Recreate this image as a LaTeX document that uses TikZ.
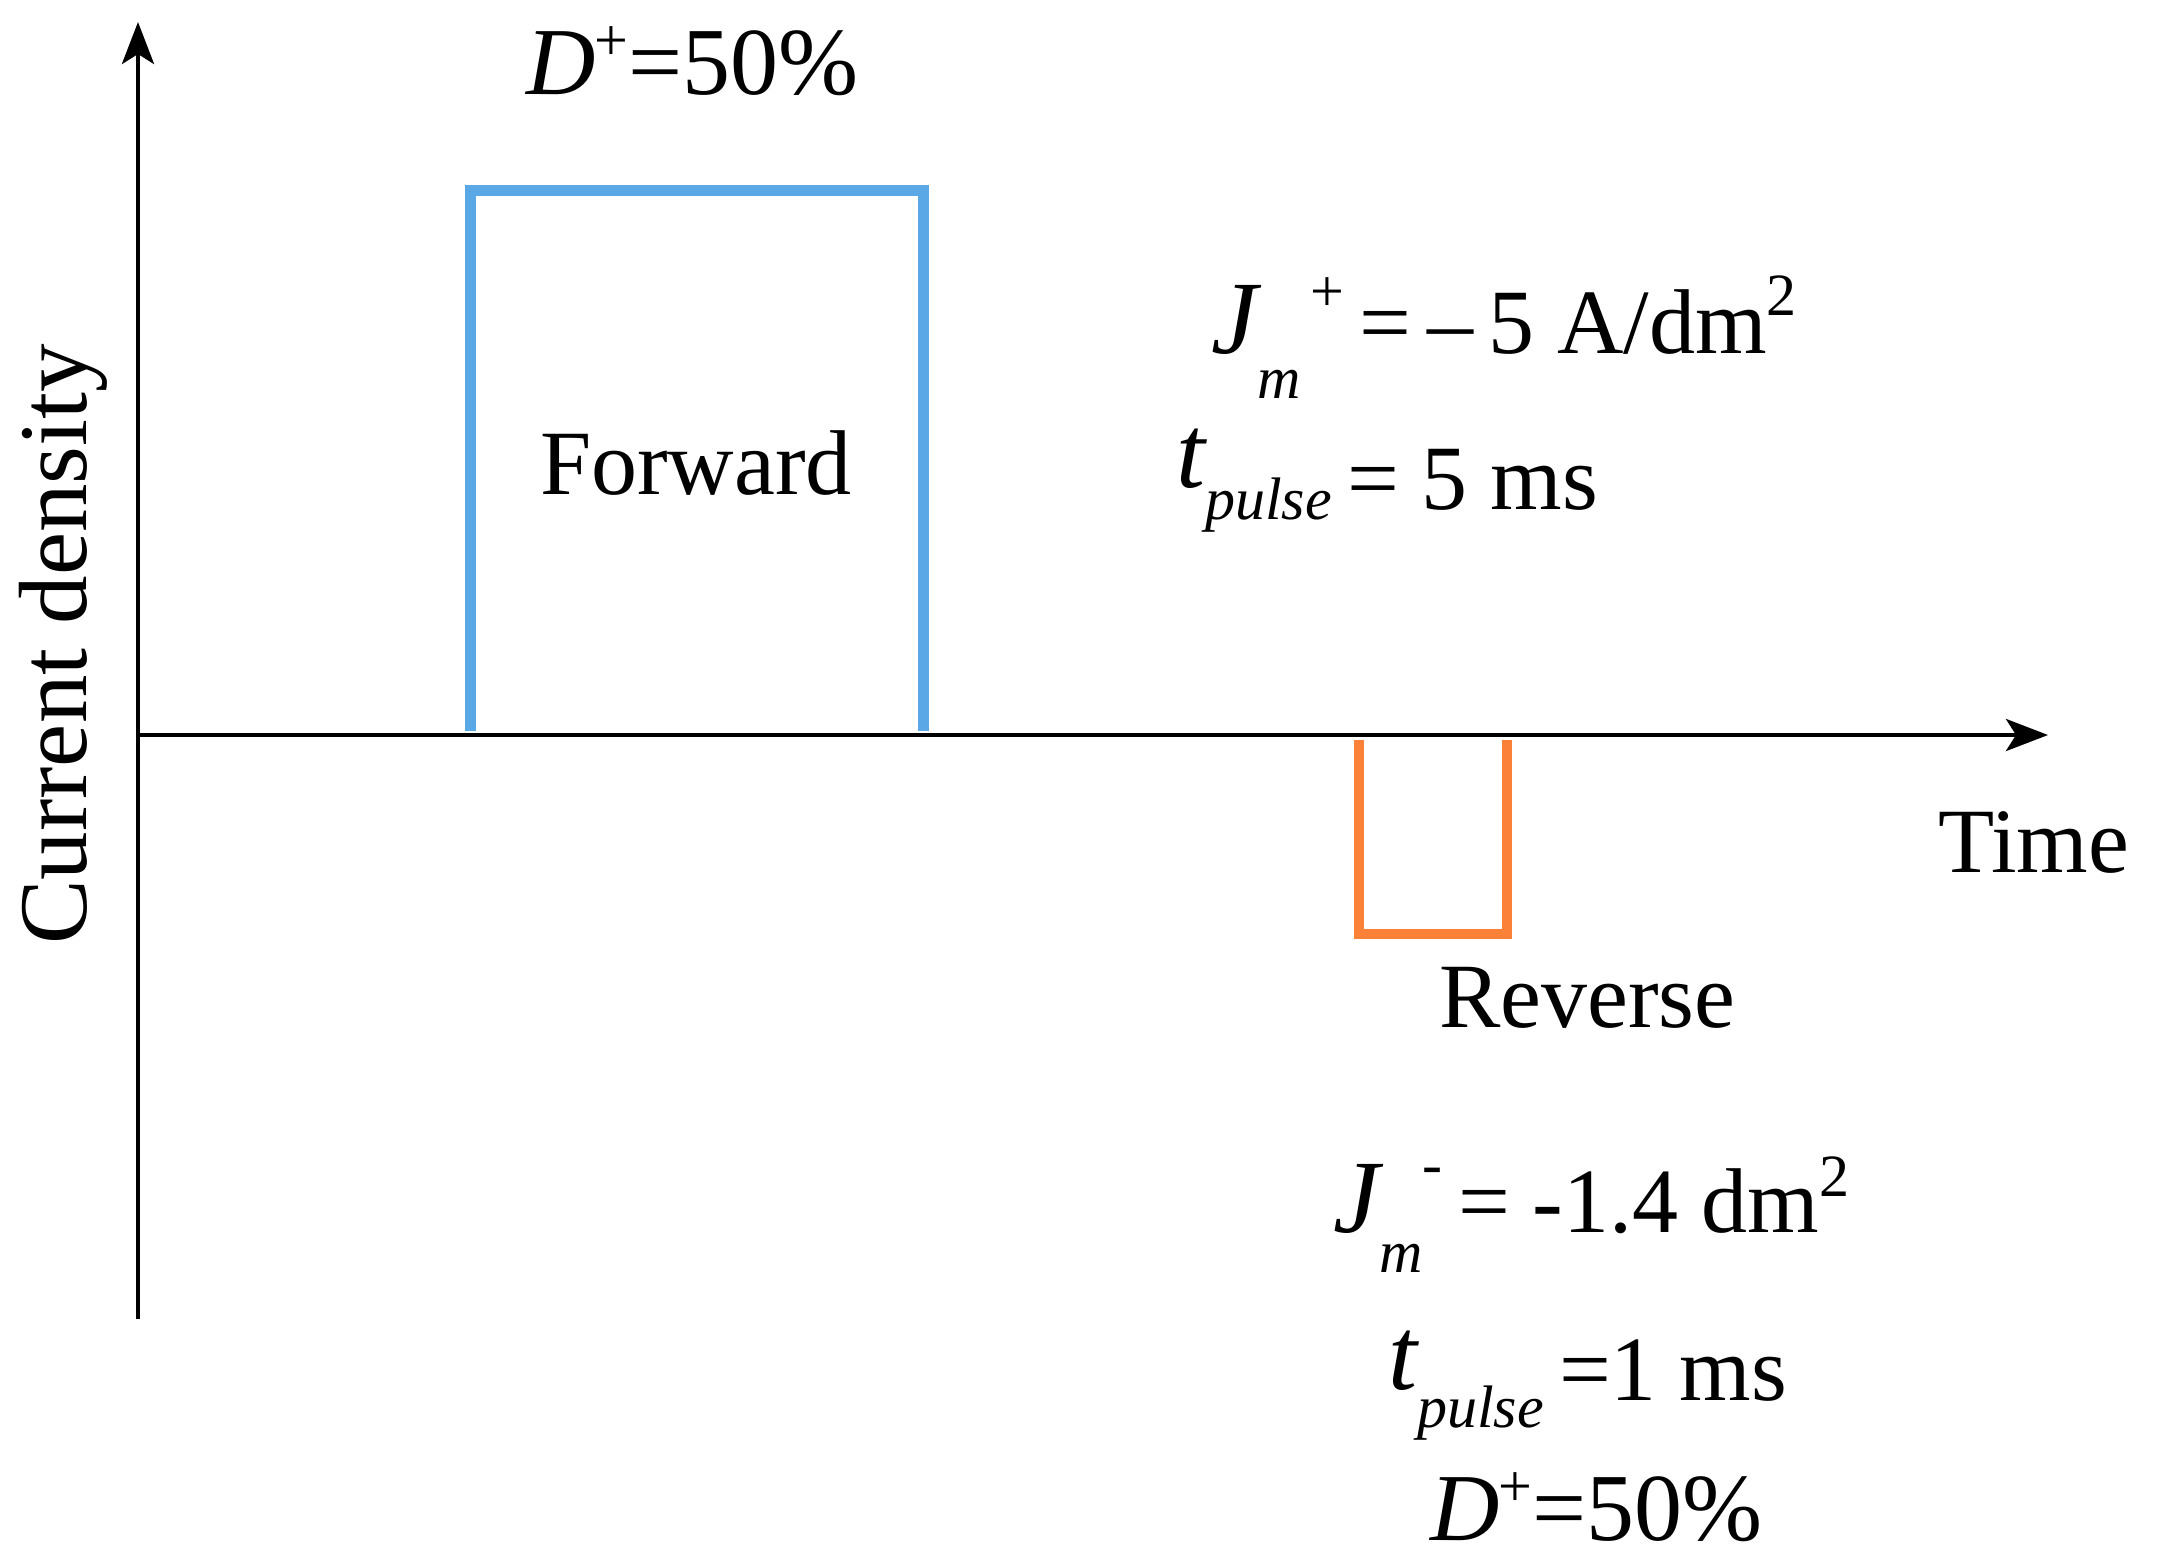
\documentclass[tikz,border=0pt]{standalone}
\usepackage{fontspec}
\setmainfont{Liberation Serif}
\usetikzlibrary{arrows.meta}
\definecolor{fwdblue}{HTML}{5AA9E6}
\definecolor{revorange}{HTML}{FB8139}
\newcommand{\smallf}{\fontsize{60}{70}\selectfont}
\newcommand{\bigf}{\fontsize{104}{120}\selectfont}
\tikzset{
  lbl/.style={inner sep=0pt, anchor=base west, font=\fontsize{92}{110}\selectfont},
  axis/.style={line width=4.5pt, -{Stealth[length=42pt,width=32pt,inset=10pt]}},
  fwd/.style={line width=11pt, draw=fwdblue},
  rev/.style={line width=10.5pt, draw=revorange}
}
\begin{document}
\begin{tikzpicture}[x=1pt,y=-1pt]
\useasboundingbox (0,0) rectangle (2170,1566);
% axes
\coordinate (O) at (138,735);
\coordinate (ytop) at (138,22);
\coordinate (ybot) at (138,1319);
\coordinate (xend) at (2048,735);
\draw[axis] (ybot) -- (ytop);
\draw[axis] (O) -- (xend);
% forward pulse
\coordinate (f1) at (470,731);
\coordinate (f2) at (470,190);
\coordinate (f3) at (923,190);
\coordinate (f4) at (923,731);
\draw[fwd] (f1) -- (f2) -- (f3) -- (f4);
% reverse pulse
\coordinate (r1) at (1359,740);
\coordinate (r2) at (1359,934);
\coordinate (r3) at (1507,934);
\coordinate (r4) at (1507,740);
\draw[rev] (r1) -- (r2) -- (r3) -- (r4);
% labels
\node[lbl, font=\fontsize{96}{110}\selectfont] (dtop) at (526,94) {{\itshape D}\kern-1pt\raisebox{34pt}{\smallf +}=50\%};
\node[lbl] (fwdl) at (540,494) {Forward};
\node[lbl] (jp) at (1211,353) {{\bigf\itshape J}\raisebox{-45pt}{\smallf\itshape m}\raisebox{42pt}{\smallf\,+}\,=\,–\,5 A/dm\raisebox{38pt}{\smallf 2}};
\node[lbl] (tp1) at (1176,509) {\raisebox{22pt}{\bigf\itshape t}\raisebox{-10pt}{\smallf\itshape pulse}\,= 5 ms};
\node[lbl] (timel) at (1938,872) {Time};
\node[lbl] (revl) at (1439,1027) {Reverse};
\node[lbl] (jm) at (1333,1232) {{\bigf\itshape J}\raisebox{-40pt}{\smallf\itshape m}\raisebox{48pt}{\smallf -}\,= -1.4 dm\raisebox{36pt}{\smallf 2}};
\node[lbl] (tp2) at (1388,1400) {\raisebox{11pt}{\bigf\itshape t}\raisebox{-27pt}{\smallf\itshape pulse}\,=1 ms};
\node[lbl, font=\fontsize{96}{110}\selectfont] (dbot) at (1430,1540) {{\itshape D}\kern-1pt\raisebox{34pt}{\smallf +}=50\%};
\node[lbl, rotate=90, font=\fontsize{97}{110}\selectfont] (ylab) at (86,945) {Current density};
\end{tikzpicture}
\end{document}
